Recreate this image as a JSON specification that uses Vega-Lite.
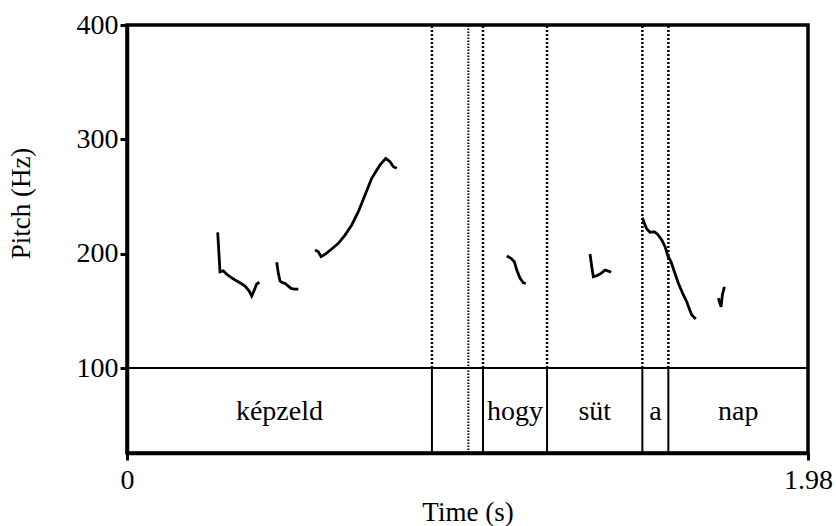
{
  "$schema": "https://vega.github.io/schema/vega-lite/v6.json",
  "width": 681,
  "height": 428,
  "autosize": {"type": "none"},
  "padding": {"left": 127, "top": 25, "right": 28, "bottom": 73},
  "background": "white",
  "config": {
    "font": "Liberation Serif",
    "view": {"stroke": "black", "strokeWidth": 3.5},
    "text": {"font": "Liberation Serif"},
    "axis": {
      "labelFont": "Liberation Serif",
      "titleFont": "Liberation Serif",
      "labelFontSize": 28,
      "titleFontSize": 27,
      "titleFontWeight": "normal",
      "labelColor": "black",
      "titleColor": "black",
      "domainColor": "black",
      "tickColor": "black",
      "domainWidth": 3.5,
      "tickWidth": 3,
      "tickSize": 7,
      "grid": false
    }
  },
  "datasets": {
    "pitch": [
      {"seg": 1, "t": 0.2637, "f0": 218.7},
      {"seg": 1, "t": 0.2704, "f0": 184.2},
      {"seg": 1, "t": 0.2800, "f0": 185.1},
      {"seg": 1, "t": 0.2899, "f0": 182.0},
      {"seg": 1, "t": 0.2995, "f0": 179.9},
      {"seg": 1, "t": 0.3141, "f0": 177.0},
      {"seg": 1, "t": 0.3286, "f0": 174.6},
      {"seg": 1, "t": 0.3431, "f0": 171.7},
      {"seg": 1, "t": 0.3548, "f0": 167.6},
      {"seg": 1, "t": 0.3626, "f0": 163.0},
      {"seg": 1, "t": 0.3702, "f0": 168.2},
      {"seg": 1, "t": 0.3771, "f0": 173.5},
      {"seg": 1, "t": 0.3847, "f0": 175.0},
      {"seg": 2, "t": 0.4353, "f0": 192.5},
      {"seg": 2, "t": 0.4400, "f0": 182.8},
      {"seg": 2, "t": 0.4449, "f0": 176.1},
      {"seg": 2, "t": 0.4516, "f0": 174.6},
      {"seg": 2, "t": 0.4594, "f0": 174.1},
      {"seg": 2, "t": 0.4673, "f0": 172.0},
      {"seg": 2, "t": 0.4769, "f0": 169.7},
      {"seg": 2, "t": 0.4865, "f0": 169.1},
      {"seg": 2, "t": 0.4981, "f0": 169.1},
      {"seg": 3, "t": 0.5467, "f0": 203.2},
      {"seg": 3, "t": 0.5563, "f0": 201.7},
      {"seg": 3, "t": 0.5641, "f0": 197.4},
      {"seg": 3, "t": 0.5758, "f0": 199.5},
      {"seg": 3, "t": 0.5952, "f0": 204.1},
      {"seg": 3, "t": 0.6144, "f0": 209.1},
      {"seg": 3, "t": 0.6339, "f0": 216.3},
      {"seg": 3, "t": 0.6534, "f0": 225.1},
      {"seg": 3, "t": 0.6726, "f0": 236.7},
      {"seg": 3, "t": 0.6921, "f0": 251.3},
      {"seg": 3, "t": 0.7115, "f0": 265.9},
      {"seg": 3, "t": 0.7232, "f0": 271.7},
      {"seg": 3, "t": 0.7357, "f0": 277.6},
      {"seg": 3, "t": 0.7523, "f0": 283.4},
      {"seg": 3, "t": 0.7648, "f0": 280.4},
      {"seg": 3, "t": 0.7744, "f0": 276.1},
      {"seg": 3, "t": 0.7842, "f0": 274.7},
      {"seg": 4, "t": 1.1041, "f0": 198.0},
      {"seg": 4, "t": 1.1166, "f0": 196.0},
      {"seg": 4, "t": 1.1262, "f0": 193.0},
      {"seg": 4, "t": 1.1332, "f0": 185.7},
      {"seg": 4, "t": 1.1428, "f0": 178.5},
      {"seg": 4, "t": 1.1524, "f0": 174.6},
      {"seg": 4, "t": 1.1593, "f0": 174.1},
      {"seg": 5, "t": 1.3463, "f0": 199.7},
      {"seg": 5, "t": 1.3513, "f0": 188.6},
      {"seg": 5, "t": 1.3559, "f0": 179.9},
      {"seg": 5, "t": 1.3658, "f0": 180.7},
      {"seg": 5, "t": 1.3783, "f0": 182.8},
      {"seg": 5, "t": 1.3900, "f0": 185.7},
      {"seg": 5, "t": 1.3996, "f0": 184.8},
      {"seg": 5, "t": 1.4074, "f0": 183.7},
      {"seg": 6, "t": 1.4984, "f0": 231.5},
      {"seg": 6, "t": 1.5042, "f0": 226.6},
      {"seg": 6, "t": 1.5112, "f0": 221.6},
      {"seg": 6, "t": 1.5208, "f0": 218.7},
      {"seg": 6, "t": 1.5333, "f0": 219.2},
      {"seg": 6, "t": 1.5432, "f0": 216.9},
      {"seg": 6, "t": 1.5548, "f0": 212.0},
      {"seg": 6, "t": 1.5644, "f0": 206.1},
      {"seg": 6, "t": 1.5723, "f0": 198.2},
      {"seg": 6, "t": 1.5819, "f0": 193.0},
      {"seg": 6, "t": 1.5915, "f0": 184.2},
      {"seg": 6, "t": 1.6031, "f0": 174.1},
      {"seg": 6, "t": 1.6176, "f0": 163.9},
      {"seg": 6, "t": 1.6275, "f0": 158.0},
      {"seg": 6, "t": 1.6342, "f0": 152.2},
      {"seg": 6, "t": 1.6420, "f0": 146.4},
      {"seg": 6, "t": 1.6537, "f0": 142.9},
      {"seg": 7, "t": 1.7194, "f0": 161.2},
      {"seg": 7, "t": 1.7272, "f0": 153.6},
      {"seg": 7, "t": 1.7310, "f0": 163.9},
      {"seg": 7, "t": 1.7368, "f0": 171.1}
    ],
    "bounds": [
      {"t": 0.8866},
      {"t": 1.0350},
      {"t": 1.2213},
      {"t": 1.4984},
      {"t": 1.5740}
    ],
    "points": [
      {"t": 0.9925}
    ],
    "words": [
      {"label": "képzeld", "mid": 0.4433},
      {"label": "hogy", "mid": 1.1282},
      {"label": "süt", "mid": 1.3599},
      {"label": "a", "mid": 1.5362},
      {"label": "nap", "mid": 1.7770}
    ]
  },
  "encoding": {
    "x": {
      "type": "quantitative",
      "scale": {"domain": [0, 1.98], "nice": false, "zero": false},
      "axis": {
        "title": "Time (s)",
        "values": [0, 1.98],
        "labelExpr": "format(datum.value, '.3~g')",
        "labelFlush": false,
        "labelPadding": 6,
        "titleY": 59,
        "titleBaseline": "middle"
      }
    },
    "y": {
      "type": "quantitative",
      "scale": {"domain": [25.7, 400], "nice": false, "zero": false},
      "axis": {
        "title": "Pitch (Hz)",
        "values": [100, 200, 300, 400],
        "labelPadding": 2,
        "titleX": -106,
        "titleY": 178,
        "titleAngle": -90,
        "titleAlign": "center",
        "titleBaseline": "middle"
      }
    }
  },
  "layer": [
    {
      "data": {"name": "bounds"},
      "mark": {"type": "rule", "color": "black", "strokeWidth": 2.5, "strokeDash": [2, 2]},
      "encoding": {
        "x": {"field": "t", "type": "quantitative"},
        "y": {"datum": 100},
        "y2": {"datum": 400}
      }
    },
    {
      "data": {"name": "bounds"},
      "mark": {"type": "rule", "color": "black", "strokeWidth": 2},
      "encoding": {
        "x": {"field": "t", "type": "quantitative"},
        "y": {"datum": 25.7},
        "y2": {"datum": 100}
      }
    },
    {
      "data": {"name": "points"},
      "mark": {"type": "rule", "color": "black", "strokeWidth": 2, "strokeDash": [1.5, 1.5]},
      "encoding": {
        "x": {"field": "t", "type": "quantitative"},
        "y": {"datum": 25.7},
        "y2": {"datum": 400}
      }
    },
    {
      "data": {"values": [{"f0": 100}]},
      "mark": {"type": "rule", "color": "black", "strokeWidth": 2},
      "encoding": {
        "y": {"field": "f0", "type": "quantitative"}
      }
    },
    {
      "data": {"name": "pitch"},
      "mark": {"type": "line", "color": "black", "strokeWidth": 2.8, "interpolate": "linear"},
      "encoding": {
        "x": {"field": "t", "type": "quantitative"},
        "y": {"field": "f0", "type": "quantitative"},
        "detail": {"field": "seg", "type": "nominal"}
      }
    },
    {
      "data": {"name": "words"},
      "mark": {"type": "text", "font": "Liberation Serif", "fontSize": 28, "color": "black", "align": "center", "baseline": "alphabetic"},
      "encoding": {
        "x": {"field": "mid", "type": "quantitative"},
        "y": {"datum": 54.5},
        "text": {"field": "label", "type": "nominal"}
      }
    }
  ]
}
